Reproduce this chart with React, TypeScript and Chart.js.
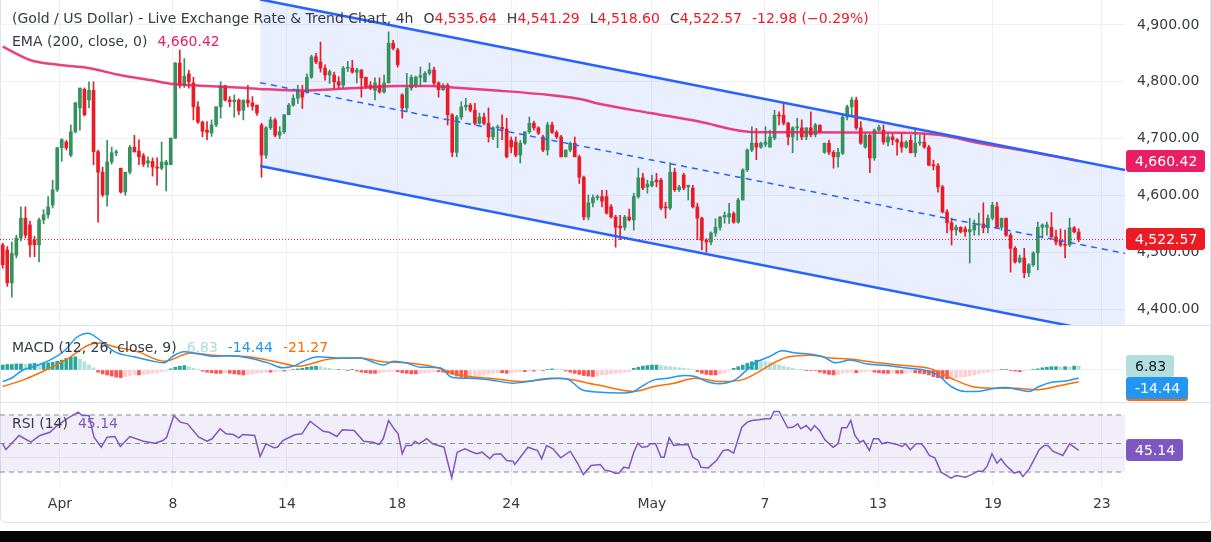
import React, { useEffect, useRef } from 'react';
import { Chart, registerables } from 'chart.js';

Chart.register(...registerables);

const FONT = '"DejaVu Sans", sans-serif';
const TEXT = '#363a45';
const GRID = '#eef1f6';
const UP = '#35915e';
const DOWN = '#eb1b25';
const EMA_COLOR = '#e91e63';
const CH_BLUE = '#2962ff';

// ---------------- DATA ----------------
const opens = [
  4513,4504,4446,4495,4525,4560,4548,4521,4513,4557,
  4566,4583,4610,4684,4694,4671,4712,4754,4787,4768,
  4785,4677,4641,4601,4659,4675,4648,4606,4641,4685,
  4678,4670,4657,4660,4650,4648,4654,4654,4701,4833,
  4794,4814,4798,4756,4729,4715,4710,4724,4756,4793,
  4768,4765,4768,4750,4768,4763,4759,4724,4671,4719,
  4733,4706,4712,4742,4759,4771,4782,4782,4808,4844,
  4835,4824,4812,4812,4800,4794,4824,4824,4817,4821,
  4808,4794,4785,4794,4782,4798,4868,4856,4777,4754,
  4789,4794,4808,4800,4815,4821,4798,4786,4794,4742,
  4676,4738,4756,4759,4750,4727,4738,4727,4703,4719,
  4720,4717,4697,4694,4671,4692,4712,4727,4719,4703,
  4680,4724,4711,4703,4668,4680,4692,4668,4632,4562,
  4587,4596,4598,4598,4580,4562,4546,4544,4562,4557,
  4598,4631,4615,4617,4627,4627,4580,4578,4641,4610,
  4636,4615,4613,4580,4560,4521,4518,4534,4544,4562,
  4562,4568,4553,4592,4645,4680,4692,4685,4690,4685,
  4701,4741,4741,4727,4703,4719,4719,4703,4719,4707,
  4724,4676,4692,4676,4668,4674,4738,4756,4768,4719,
  4685,4706,4666,4715,4715,4694,4703,4698,4694,4685,
  4697,4675,4692,4694,4685,4653,4652,4615,4571,4552,
  4539,4544,4541,4536,4539,4548,4550,4543,4560,4580,
  4544,4560,4530,4507,4483,4490,4464,4478,4499,4544,
  4544,4544,4527,4521,4513,4513,4543,4535.64,
];
const highs = [
  4516,4510,4518,4530,4580,4580,4555,4528,4560,4575,
  4598,4627,4685,4700,4697,4724,4764,4789,4789,4800,
  4800,4680,4650,4697,4685,4680,4648,4641,4688,4706,
  4698,4674,4668,4666,4666,4694,4662,4701,4834,4856,
  4841,4820,4808,4765,4731,4730,4733,4756,4800,4794,
  4774,4777,4770,4768,4794,4774,4759,4727,4721,4738,
  4736,4721,4742,4762,4777,4794,4794,4814,4847,4850,
  4870,4830,4821,4817,4809,4827,4836,4838,4824,4821,
  4808,4800,4807,4807,4812,4888,4873,4859,4779,4815,
  4812,4810,4826,4818,4833,4826,4800,4797,4797,4744,
  4741,4765,4771,4762,4762,4745,4745,4754,4721,4724,
  4742,4736,4703,4703,4697,4712,4738,4731,4721,4706,
  4729,4729,4714,4706,4680,4694,4703,4671,4634,4601,
  4601,4601,4609,4609,4584,4565,4565,4565,4576,4604,
  4648,4639,4627,4636,4639,4630,4588,4658,4648,4618,
  4639,4618,4618,4586,4562,4524,4536,4559,4563,4571,
  4586,4571,4595,4647,4682,4721,4718,4694,4721,4715,
  4750,4747,4763,4729,4721,4736,4733,4719,4747,4727,
  4724,4692,4697,4679,4683,4741,4759,4773,4773,4730,
  4710,4708,4717,4724,4724,4708,4708,4700,4709,4696,
  4706,4719,4706,4709,4688,4662,4656,4618,4575,4560,
  4548,4545,4545,4560,4557,4569,4587,4566,4588,4588,
  4560,4560,4534,4510,4495,4507,4480,4501,4553,4550,
  4553,4570,4539,4541,4539,4560,4545,4541.29,
];
const lows = [
  4472,4440,4421,4490,4520,4525,4492,4492,4483,4550,
  4560,4578,4607,4660,4680,4668,4710,4715,4740,4754,
  4654,4553,4598,4581,4655,4670,4604,4600,4638,4676,
  4654,4651,4650,4634,4618,4645,4608,4654,4700,4789,
  4790,4789,4733,4727,4703,4698,4704,4721,4736,4766,
  4756,4738,4742,4733,4756,4750,4741,4632,4665,4716,
  4703,4700,4709,4742,4757,4762,4753,4780,4806,4832,
  4817,4803,4797,4789,4789,4789,4818,4815,4798,4773,
  4789,4786,4768,4780,4780,4798,4856,4826,4736,4747,
  4785,4790,4792,4800,4812,4794,4773,4785,4724,4668,
  4668,4734,4750,4747,4724,4725,4724,4694,4698,4684,
  4698,4666,4675,4668,4657,4690,4709,4715,4707,4677,
  4671,4709,4700,4668,4668,4677,4668,4621,4557,4557,
  4580,4592,4580,4567,4560,4509,4522,4539,4555,4539,
  4595,4610,4604,4615,4615,4575,4560,4575,4607,4607,
  4610,4592,4578,4522,4504,4500,4513,4528,4539,4551,
  4551,4551,4551,4592,4642,4677,4663,4683,4686,4685,
  4698,4724,4724,4689,4675,4697,4698,4698,4703,4703,
  4710,4674,4672,4648,4650,4672,4733,4742,4716,4690,
  4683,4640,4662,4713,4690,4687,4689,4671,4676,4683,
  4675,4668,4688,4683,4653,4645,4606,4569,4534,4513,
  4530,4534,4528,4481,4530,4530,4534,4534,4557,4542,
  4539,4528,4465,4481,4481,4455,4457,4475,4469,4525,
  4530,4525,4513,4510,4490,4510,4534,4518.60,
];
const closes = [
  4478,4446,4498,4525,4560,4530,4513,4513,4557,4566,
  4580,4610,4684,4698,4684,4712,4763,4789,4742,4785,
  4677,4641,4601,4659,4675,4677,4606,4641,4685,4677,
  4668,4655,4661,4650,4648,4659,4659,4701,4833,4794,
  4810,4800,4756,4729,4713,4711,4724,4756,4793,4768,
  4765,4768,4749,4768,4763,4757,4745,4671,4719,4733,
  4706,4712,4742,4759,4771,4785,4773,4808,4844,4835,
  4824,4812,4818,4800,4794,4824,4825,4817,4821,4807,
  4791,4789,4798,4782,4798,4868,4859,4830,4754,4789,
  4808,4808,4811,4815,4821,4798,4786,4794,4742,4676,
  4738,4756,4759,4750,4727,4738,4727,4703,4719,4720,
  4717,4668,4685,4671,4692,4712,4727,4719,4710,4680,
  4724,4711,4703,4668,4680,4692,4668,4632,4562,4587,
  4596,4598,4590,4569,4562,4544,4543,4562,4557,4598,
  4631,4613,4620,4625,4624,4578,4578,4641,4610,4615,
  4613,4618,4580,4560,4521,4518,4534,4544,4562,4565,
  4568,4553,4592,4645,4680,4692,4685,4692,4694,4703,
  4741,4740,4727,4703,4719,4720,4703,4719,4707,4724,
  4712,4692,4676,4668,4676,4738,4756,4768,4719,4692,
  4706,4666,4715,4720,4694,4703,4698,4694,4685,4694,
  4675,4692,4694,4685,4653,4652,4615,4571,4552,4539,
  4544,4536,4536,4540,4548,4550,4543,4560,4583,4544,
  4560,4530,4507,4483,4490,4464,4478,4499,4544,4548,
  4548,4527,4518,4513,4512,4543,4536,4522.57,
];

const changeText = '-12.98 (\u22120.29%)';

// EMA(200) read at sparse candle positions
const emaAt = [0,6,12.6,18.8,25.8,32.4,37.5,43.5,50.7,58.2,65.5,76.5,87.5,94.1,98.5,109.5,120.5,127.2,131.6,142.6,153.6,162.4,166.8,175.6,197.6,206.5,215.3,224.1,232.9,237];
const emaVal = [4861.8,4838.4,4829.6,4824.3,4812,4803.2,4796.1,4793.1,4790.3,4786.8,4784.7,4788.5,4792.6,4792.6,4790.3,4784.3,4776.7,4769.7,4760.9,4745.1,4729.7,4713.9,4711.1,4711.1,4710.4,4706.3,4691.7,4679.9,4667.1,4660.42];

// Parallel channel (drawing) end points
const chanAt = [56.7, 247.2];
const chanUpper = [4945, 4644.6];
const chanMid = [4798.4, 4498];
const chanLower = [4651.8, 4351.4];

// MACD (12, 26, 9)
const histVal = [
  9,10,10,11,11,10,11,12,11,12,13,14,
  16,18,21,23,24,
  20,15,9,4,
  -4,-7,-9,-11,-13,-14,-12,-10,-9,-9,-8,-7,-6,-5,-3,-2,
  2,5,7,8,6,3,
  0.5,
  -2,-4,-5,-6,-6,-5,-6,-7,-8,-9,-8,-7,-6,-5,-4,
  -4,-3,-2,-2,-1,
  1,2,3,5,6,7,6,4,3,
  1,1,0.5,-0.5,0.5,
  -2,-4,-5,-6,-6,-5,-4,-3,-2,
  -3,-5,-6,-7,-7,-6,-5,-4,-3,-3,-4,
  -6,-8,-11,-13,-15,-14,-12,-10,-9,-7,-6,
  -5,-5,-6,-5,-4,-3,-3,-2,-2,-1,-1,
  1,2,1.5,0.5,
  -2,-4,-6,-8,-10,-11,-12,-11,
  -9,-8,-7,-6,-5,-4,-3,
  3,5,7,8,9,9,
  8,7,6,5,4,3,2,1,
  -3,-6,-8,-9,-9,-7,-5,-2,
  3,6,9,12,15,18,
  17,15,13,11,9,7,5,3,
  1,0.5,-0.5,-1,-1,
  -4,-6,-8,-9,-8,-6,
  -5,-4,-5,-4,-3,-2,
  -4,-5,-6,-6,-5,-6,-6,-5,-4,-5,-6,-7,
  -9,-12,-14,-15,-16,-15,-14,
  -13,-12,-11,-9,-7,-5,-4,
  -2,-1,1,1,-1,-2,-3,-2,-1,1,
  2,4,5,6,6,5,6,5,7,6.83,
];
const macdAt = [0,1.9,4.5,7.8,11.3,13.7,16.4,18.8,21.3,24.7,28.9,33.1,35.6,37.3,39.9,43.2,46.5,50.1,54.2,58.4,61.7,64.4,66.8,69.4,73.6,78.7,82,83.8,86.2,88.8,92.1,96.3,98.9,103.1,107.3,112.4,115.7,120.8,124.1,127.6,130.9,136,139,141.3,143.5,146.5,150.1,152.5,155.4,157.6,161.3,163.5,165.7,168.8,171.7,174.7,177.6,180.7,183.5,186.6,190.4,194.8,198.5,202.9,206,208.9,212,214.8,217.9,220.8,223.9,226.1,228.3,231.3,234.2,237];
const macdVal = [-21,-15,0,9,22,36,60,67,55,33,24,16,13,24,33,29,25,26,22,13,4,8,18,24,22,22,13,9,16,13,5,4,-13,-15,-18,-24,-21,-15,-16,-36,-40,-42,-39,-27,-18,-15,-10,-12,-22,-25,-18,-3,13,24,35,31,29,24,13,18,11,8,4,0,-9,-30,-39,-39,-34,-32,-36,-39,-30,-22,-20,-14.44];
const signalAt = [0,4.5,9.5,14.6,18.8,21.3,24.7,29.8,35.6,41.5,46.5,54.2,60.1,65.2,71.9,78.7,83.8,88.8,95.4,100.5,107.3,114,122.5,130.9,139,143.5,147.9,152.5,158.4,162.8,166.6,170.3,173.2,177.6,182.2,186.6,191,198.5,204.5,208.9,213.5,217.9,223.2,227.6,232,237];
const signalVal = [-30,-18,0,22,45,49,42,33,16,31,27,24,15,7,20,22,15,13,5,-9,-15,-21,-15,-27,-39,-30,-24,-15,-21,-18,-3,15,24,27,22,20,15,8,2,-15,-30,-33,-33,-36,-30,-21.27];

// RSI (14)
const rsiAt = [0,0.7,3.6,6.2,8.2,10.4,12,14.2,16.6,17.5,19,20.1,21.7,23,24.7,25.9,28,31,33.5,35.3,36.1,37.7,39.1,40.7,43.2,45,46.1,47.9,49.2,50.8,52,52.9,55.5,56.7,58,59.7,60.5,61.7,64.3,65.9,67.7,70.6,71.9,73.6,74.8,77.4,79.5,81.6,82.9,83.8,85,86.2,87.1,88,88.8,90,90.8,91.7,93.4,94.7,97.2,98.9,100.1,101.8,103.5,104.4,105.6,107.3,108.1,109.7,111,112.4,112.8,115.7,117.8,118.7,119.8,121.2,122.9,125,126.7,127.9,129.6,131.6,132.6,133.8,134.9,135.7,136.8,137.9,139,139.9,140.8,142,142.7,143.8,145,145.7,146.8,147.8,149,151,152,153.2,153.8,155.4,157.2,158.7,159.8,161,162.8,164,165,166.6,168,169.1,169.9,171,172.9,174,175.1,175.8,177,178,178.8,179.9,181.1,182.9,184,184.8,185.9,186.8,187.7,188.8,189.6,190.9,191.8,192.9,193.7,194.8,197,198.1,198.9,199.9,201.2,202.3,203,204.1,205.3,206.7,208.9,210,212,213.4,214.8,215.9,216.8,217.9,219,219.9,220.8,222.8,223.9,224.7,226.1,228.3,229.4,230.2,231.3,233.5,235,237];
const rsiVal = [49.8,45.8,55.6,50.9,55.6,57.9,62.6,67.5,72,69.6,69.6,54.4,47.4,54.4,54.9,47.9,54.9,51.6,50.2,52.1,54.4,69.6,65,63.8,54.4,51.6,53.3,60.3,56.8,56.3,54,56.3,55.6,40.9,49.8,47,47.4,52.1,56.1,56.8,65.6,58.6,57.9,54.9,59.6,59.1,51.6,50.9,49.3,53.3,66.1,60.3,56.8,42.8,48.6,48.6,51.6,49.8,53.3,49.8,47.4,25.9,43.9,46.3,43.9,42.8,43.9,39.3,42.3,42.8,38.1,37.6,35.3,47.4,45.1,39.3,48.6,46.3,40,44.6,35.8,28.2,34.6,35.3,31.5,30.6,29.2,29.2,33.4,32.7,43.9,50.2,47.4,47.9,49.8,49.8,40.4,40.4,54,48.6,49.1,49.1,40.4,38.1,33.4,32.9,38.1,45.1,45.6,43.2,61.4,65,66.1,66.6,67.3,67.3,72.5,72.5,61,61.4,63.8,60.3,62.6,59.1,62.6,59.1,52.6,47.4,49.8,61,61,66.1,55.6,50.9,52.1,45.1,53.3,53.3,49.8,50.9,49.3,47.9,49.8,45.6,49.8,49.8,47.4,41.6,40,29.9,25.7,27.5,26.4,28.2,30.6,30.6,33.9,42.8,36.2,39.3,35.3,29.2,30.4,26.8,32.2,45.6,48.6,48.6,44.6,41.6,49.8,45.14];
const rsiLevels = [70, 50, 30];
const rsiTicks = [40];

// Axis ticks
const xTickAt = [12.6, 37.5, 62.6, 86.9, 112, 143, 167.9, 192.8, 218.1, 242.1];
const xTickLabels = ['Apr', '8', '14', '18', '24', 'May', '7', '13', '19', '23'];
const priceTicks = [4400, 4500, 4600, 4700, 4800, 4900];

// ---------------- LAYOUT ----------------
const W = 1211;
const AXIS_W = 86;
const PRICE_H = 325;
const MACD_TOP = 326;
const MACD_H = 76;
const RSI_TOP = 403;
const RSI_H = 120;
const TIME_H = 37;
const X_MIN = -0.6;
const X_MAX = 247.2;
const P_MIN = 4372;
const P_MAX = 4944;
const M_MIN = -58.2;
const M_MAX = 80;
const R_MIN = 20.2;
const R_MAX = 78.4;

const fmt2 = (v: number) => v.toLocaleString('en-US', { minimumFractionDigits: 2, maximumFractionDigits: 2 });
const last = closes.length - 1;

const zeroPad = (s: any) => {
  s.paddingTop = 0;
  s.paddingBottom = 0;
  s.paddingLeft = 0;
  s.paddingRight = 0;
};

function xScale(showLabels: boolean): any {
  return {
    type: 'linear',
    min: X_MIN,
    max: X_MAX,
    offset: false,
    grid: { color: GRID, drawTicks: false, offset: false },
    border: { display: false },
    afterBuildTicks: (s: any) => { s.ticks = xTickAt.map((v) => ({ value: v })); },
    ticks: showLabels
      ? { display: true, autoSkip: false, maxRotation: 0, padding: 10, color: TEXT, font: { family: FONT, size: 14 }, callback: (_v: any, i: number) => xTickLabels[i] }
      : { display: false },
    afterFit: (s: any) => { s.height = showLabels ? TIME_H : 0; zeroPad(s); },
  };
}

function yRight(min: number, max: number, ticks: number[], showLabels: boolean): any {
  return {
    type: 'linear',
    position: 'right',
    min,
    max,
    afterBuildTicks: (s: any) => { s.ticks = ticks.map((v) => ({ value: v })); },
    afterFit: (s: any) => { s.width = AXIS_W; zeroPad(s); },
    grid: { color: GRID, drawTicks: false },
    border: { display: false },
    ticks: showLabels
      ? { padding: 12, color: TEXT, font: { family: FONT, size: 14 }, callback: (v: any) => fmt2(Number(v)) }
      : { display: false },
  };
}

function drawTag(ctx: any, x: number, cy: number, text: string, bg: string, fg: string) {
  ctx.save();
  ctx.font = `14px ${FONT}`;
  const w = Math.round(ctx.measureText(text).width + 17);
  const h = 22;
  const top = Math.round(cy - h / 2);
  ctx.fillStyle = bg;
  ctx.beginPath();
  if (ctx.roundRect) ctx.roundRect(x, top, w, h, 3); else ctx.rect(x, top, w, h);
  ctx.fill();
  ctx.fillStyle = fg;
  ctx.textAlign = 'left';
  ctx.textBaseline = 'middle';
  ctx.fillText(text, x + 9, top + h / 2 + 1);
  ctx.restore();
}

const hline = (y: number, extra: any) => ({
  type: 'line',
  data: [{ x: X_MIN, y }, { x: X_MAX, y }],
  pointRadius: 0,
  ...extra,
});

export default function App() {
  const priceRef = useRef<HTMLCanvasElement>(null);
  const macdRef = useRef<HTMLCanvasElement>(null);
  const rsiRef = useRef<HTMLCanvasElement>(null);

  useEffect(() => {
    document.body.style.margin = '0';
    const candleColors = closes.map((c, i) => (c >= opens[i] ? UP : DOWN));
    const emaLast = emaVal[emaVal.length - 1];
    const lastClose = closes[last];

    const common: any = {
      responsive: false,
      maintainAspectRatio: false,
      animation: false,
      devicePixelRatio: 1,
      layout: { padding: 0, autoPadding: false },
      events: [],
      plugins: { legend: { display: false }, tooltip: { enabled: false } },
    };

    const priceChart = new Chart(priceRef.current as HTMLCanvasElement, {
      type: 'bar',
      data: {
        datasets: [
          {
            type: 'line',
            data: chanAt.map((x, i) => ({ x, y: chanUpper[i] })),
            borderWidth: 0,
            pointRadius: 0,
            fill: 1,
            backgroundColor: 'rgba(41,98,255,0.1)',
            order: 20,
          },
          {
            type: 'line',
            data: chanAt.map((x, i) => ({ x, y: chanLower[i] })),
            borderWidth: 0,
            pointRadius: 0,
            fill: false,
            order: 20,
          },
          hline(lastClose, { borderColor: DOWN, borderWidth: 1, borderDash: [1, 2], order: 15 }),
          {
            type: 'bar',
            data: lows.map((l, i) => ({ x: i, y: [l, highs[i]] })),
            backgroundColor: candleColors,
            barThickness: 1,
            grouped: false,
            order: 6,
          },
          {
            type: 'bar',
            data: opens.map((o, i) => ({ x: i, y: [o, closes[i]] })),
            backgroundColor: candleColors,
            barThickness: 3,
            minBarLength: 1,
            grouped: false,
            order: 5,
          },
          {
            type: 'line',
            data: emaAt.map((x, i) => ({ x, y: emaVal[i] })),
            borderColor: 'rgba(233,30,99,0.85)',
            borderWidth: 2.5,
            pointRadius: 0,
            cubicInterpolationMode: 'monotone',
            order: 3,
          },
          {
            type: 'line',
            data: chanAt.map((x, i) => ({ x, y: chanUpper[i] })),
            borderColor: CH_BLUE,
            borderWidth: 2.5,
            pointRadius: 0,
            order: 2,
          },
          {
            type: 'line',
            data: chanAt.map((x, i) => ({ x, y: chanMid[i] })),
            borderColor: CH_BLUE,
            borderWidth: 1.5,
            borderDash: [6, 5],
            pointRadius: 0,
            order: 2,
          },
          {
            type: 'line',
            data: chanAt.map((x, i) => ({ x, y: chanLower[i] })),
            borderColor: CH_BLUE,
            borderWidth: 2.5,
            pointRadius: 0,
            order: 2,
          },
        ] as any,
      },
      options: {
        ...common,
        scales: { x: xScale(false), y: yRight(P_MIN, P_MAX, priceTicks, true) },
      },
      plugins: [
        {
          id: 'priceTags',
          afterDraw(chart: any) {
            const ys = chart.scales.y;
            const x = chart.chartArea.right + 1;
            drawTag(chart.ctx, x, ys.getPixelForValue(emaLast), fmt2(emaLast), EMA_COLOR, '#ffffff');
            drawTag(chart.ctx, x, ys.getPixelForValue(lastClose), fmt2(lastClose), DOWN, '#ffffff');
          },
        },
      ],
    } as any);

    const histColors = histVal.map((v, i) => {
      const p = i > 0 ? histVal[i - 1] : v;
      if (v >= 0) return v >= p ? '#26a69a' : '#b2dfdb';
      return v <= p ? '#ff5252' : '#ffcdd2';
    });
    const histLast = histVal[histVal.length - 1];
    const macdLast = macdVal[macdVal.length - 1];
    const sigLast = signalVal[signalVal.length - 1];

    const macdChart = new Chart(macdRef.current as HTMLCanvasElement, {
      type: 'bar',
      data: {
        datasets: [
          {
            type: 'bar',
            data: histVal.map((v, i) => ({ x: i, y: v })),
            backgroundColor: histColors,
            barThickness: 3,
            grouped: false,
            order: 5,
          },
          {
            type: 'line',
            data: macdAt.map((x, i) => ({ x, y: macdVal[i] })),
            borderColor: '#2196f3',
            borderWidth: 1.5,
            pointRadius: 0,
            cubicInterpolationMode: 'monotone',
            order: 1,
          },
          {
            type: 'line',
            data: signalAt.map((x, i) => ({ x, y: signalVal[i] })),
            borderColor: '#ff6d00',
            borderWidth: 1.5,
            pointRadius: 0,
            cubicInterpolationMode: 'monotone',
            order: 2,
          },
        ] as any,
      },
      options: {
        ...common,
        scales: { x: xScale(false), y: yRight(M_MIN, M_MAX, [0], false) },
      },
      plugins: [
        {
          id: 'macdTags',
          afterDraw(chart: any) {
            const ys = chart.scales.y;
            const x = chart.chartArea.right + 1;
            const tealC = ys.getPixelForValue(histLast);
            const blueC = Math.max(ys.getPixelForValue(macdLast), tealC + 22);
            drawTag(chart.ctx, x, blueC + 1.5, sigLast.toFixed(2), '#ff6d00', '#ffffff');
            drawTag(chart.ctx, x, blueC, macdLast.toFixed(2), '#2196f3', '#ffffff');
            drawTag(chart.ctx, x, tealC, histLast.toFixed(2), '#b2dfdb', '#131722');
          },
        },
      ],
    } as any);

    const rsiLast = rsiVal[rsiVal.length - 1];
    const rsiChart = new Chart(rsiRef.current as HTMLCanvasElement, {
      type: 'line',
      data: {
        datasets: [
          hline(rsiLevels[0], { borderWidth: 0, fill: 1, backgroundColor: 'rgba(126,87,194,0.1)', order: 20 }),
          hline(rsiLevels[2], { borderWidth: 0, fill: false, order: 20 }),
          ...rsiLevels.map((l) => hline(l, { borderColor: '#8a8d96', borderWidth: 1, borderDash: [5, 4], fill: false, order: 5 })),
          {
            type: 'line',
            data: rsiAt.map((x, i) => ({ x, y: rsiVal[i] })),
            borderColor: '#7e57c2',
            borderWidth: 1.5,
            pointRadius: 0,
            fill: false,
            order: 1,
          },
        ] as any,
      },
      options: {
        ...common,
        scales: { x: xScale(true), y: yRight(R_MIN, R_MAX, rsiTicks, true) },
      },
      plugins: [
        {
          id: 'rsiTags',
          afterDraw(chart: any) {
            const ys = chart.scales.y;
            const x = chart.chartArea.right + 1;
            drawTag(chart.ctx, x, ys.getPixelForValue(rsiLast), rsiLast.toFixed(2), '#7e57c2', '#ffffff');
          },
        },
      ],
    } as any);

    return () => {
      priceChart.destroy();
      macdChart.destroy();
      rsiChart.destroy();
    };
  }, []);

  const lg: React.CSSProperties = {
    position: 'absolute',
    left: 12,
    font: `14px ${FONT}`,
    lineHeight: '18px',
    color: TEXT,
    whiteSpace: 'nowrap',
    display: 'flex',
    zIndex: 5,
  };
  const red = { color: DOWN };
  const gap = { marginLeft: 10 };

  return (
    <div style={{ position: 'relative', width: W, height: 542, overflow: 'hidden', background: '#ffffff' }}>
      <div style={{ position: 'absolute', left: 0, top: -10, width: W, height: 533, border: '1px solid #e0e3eb', borderRadius: 6, boxSizing: 'border-box' }} />
      <canvas ref={priceRef} width={W} height={PRICE_H} style={{ position: 'absolute', left: 0, top: 0, width: W, height: PRICE_H }} />
      <div style={{ position: 'absolute', left: 0, top: PRICE_H, width: W, height: 1, background: '#e0e3eb' }} />
      <canvas ref={macdRef} width={W} height={MACD_H} style={{ position: 'absolute', left: 0, top: MACD_TOP, width: W, height: MACD_H }} />
      <div style={{ position: 'absolute', left: 0, top: MACD_TOP + MACD_H, width: W, height: 1, background: '#e0e3eb' }} />
      <canvas ref={rsiRef} width={W} height={RSI_H} style={{ position: 'absolute', left: 0, top: RSI_TOP, width: W, height: RSI_H }} />
      <div style={{ position: 'absolute', left: 0, top: 531, width: W, height: 11, background: '#050505' }} />

      <div style={{ ...lg, top: 9 }}>
        <span>(Gold / US Dollar) - Live Exchange Rate &amp; Trend Chart, 4h</span>
        <span style={gap}>O<span style={red}>{fmt2(opens[last])}</span></span>
        <span style={gap}>H<span style={red}>{fmt2(highs[last])}</span></span>
        <span style={gap}>L<span style={red}>{fmt2(lows[last])}</span></span>
        <span style={gap}>C<span style={red}>{fmt2(closes[last])}</span></span>
        <span style={{ ...gap, ...red }}>{changeText}</span>
      </div>
      <div style={{ ...lg, top: 32 }}>
        <span>EMA (200, close, 0)</span>
        <span style={{ ...gap, color: EMA_COLOR }}>{fmt2(emaVal[emaVal.length - 1])}</span>
      </div>
      <div style={{ ...lg, top: 338 }}>
        <span>MACD (12, 26, close, 9)</span>
        <span style={{ ...gap, color: '#a8ddd5' }}>{histVal[histVal.length - 1].toFixed(2)}</span>
        <span style={{ ...gap, color: '#2196f3' }}>{macdVal[macdVal.length - 1].toFixed(2)}</span>
        <span style={{ ...gap, color: '#ff6d00' }}>{signalVal[signalVal.length - 1].toFixed(2)}</span>
      </div>
      <div style={{ ...lg, top: 414 }}>
        <span>RSI (14)</span>
        <span style={{ ...gap, color: '#7e57c2' }}>{rsiVal[rsiVal.length - 1].toFixed(2)}</span>
      </div>
    </div>
  );
}
